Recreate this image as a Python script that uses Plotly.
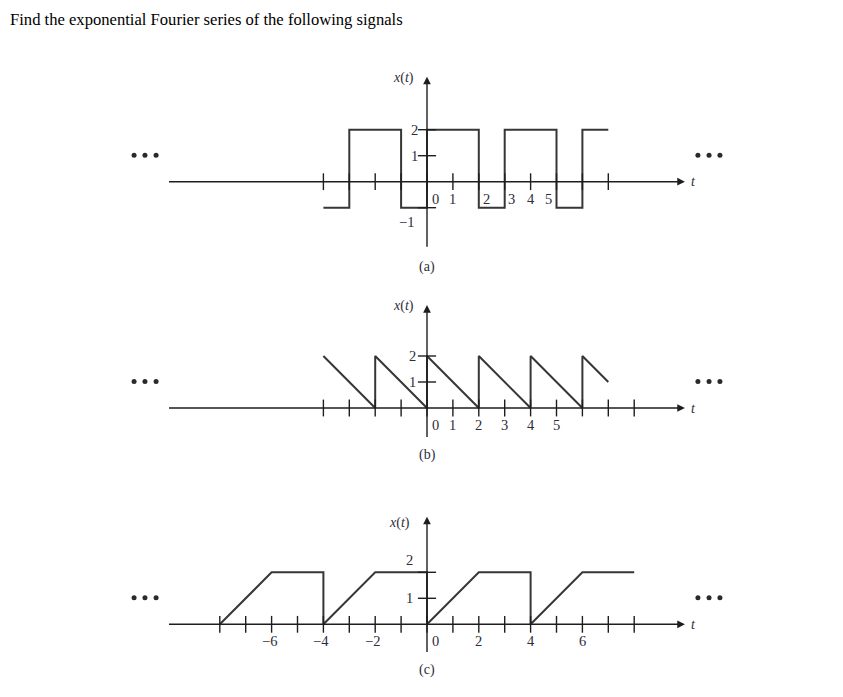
import plotly.graph_objects as go

# ---------------- data ----------------
title_text = "Find the exponential Fourier series of the following signals"

# (a) rectangular wave
t_a = [-4, -3, -3, -1, -1, 0, 0, 2, 2, 3, 3, 5, 5, 6, 6, 7]
x_a = [-1, -1, 2, 2, -1, -1, 2, 2, -1, -1, 2, 2, -1, -1, 2, 2]
xticks_a = [-4, -3, -2, -1, 0, 1, 2, 3, 4, 5, 6, 7]
yticks_a = [-1, 1, 2]
xlab_a = ["0", "1", "2", "3", "4", "5"]
xlab_pos_a = [0.34, 1.0, 2.3, 3.27, 4.0, 4.71]
ylab_a = ["2", "1", "\u22121"]
ylab_pos_a = [2, 1, -1.54]

# (b) sawtooth
t_b = [-4, -2, -2, 0, 0, 2, 2, 4, 4, 6, 6, 7]
x_b = [2, 0, 2, 0, 2, 0, 2, 0, 2, 0, 2, 1]
xticks_b = [-4, -3, -2, -1, 0, 1, 2, 3, 4, 5, 6, 7, 8]
yticks_b = [1, 2]
xlab_b = ["0", "1", "2", "3", "4", "5"]
xlab_pos_b = [0.34, 1.0, 2.0, 3.0, 4.0, 5.0]
ylab_b = ["2", "1"]
ylab_pos_b = [2, 1]

# (c) trapezoidal wave
t_c = [-8, -6, -4, -4, -2, 0, 0, 2, 4, 4, 6, 8]
x_c = [0, 2, 2, 0, 2, 2, 0, 2, 2, 0, 2, 2]
xticks_c = list(range(-8, 9))
yticks_c = [1, 2]
xlab_c = ["\u22126", "\u22124", "\u22122", "0", "2", "4", "6"]
xlab_pos_c = [-6.1, -4.1, -2.1, 0.34, 2.0, 4.0, 6.0]
ylab_c = ["2", "1"]
ylab_pos_c = [2.47, 1]

panel_names = ["(a)", "(b)", "(c)"]

# ---------------- layout geometry ----------------
OFF = 8                     # page body margin of the html
W, H = 843 - OFF, 697 - OFF
PX_X = 25.9                 # pixels per unit horizontally
X0 = 427.0 - OFF            # pixel of t = 0
PX_Y = 26.0
Y0 = [181.7 - OFF, 408.0 - OFF, 624.3 - OFF]   # pixel row of x(t)=0 per panel
axis_top = [4.04, 3.96, 4.14]
axis_bot = [-2.56, -1.17, -1.12]
xlabel_y = -0.65
ylabel_x = [-0.47, -0.57, -0.66]
xt_label_y = [3.99, 3.92, 3.9]
xt_label_x = [-0.9, -0.9, -1.05]
name_y = [-3.27, -1.81, -1.76]

SIG = "#363636"
AX = "#1e1e1e"
TXT = "#2d2d3a"
SERIF = "Liberation Serif, Times New Roman, serif"

fig = go.Figure()
yrefs = ["y", "y2", "y3"]

panels = [
    (t_a, x_a, xticks_a, yticks_a, xlab_a, xlab_pos_a, ylab_a, ylab_pos_a),
    (t_b, x_b, xticks_b, yticks_b, xlab_b, xlab_pos_b, ylab_b, ylab_pos_b),
    (t_c, x_c, xticks_c, yticks_c, xlab_c, xlab_pos_c, ylab_c, ylab_pos_c),
]

annotations = []
for i, (tt, xx, xt, yt, xl, xlp, yl, ylp) in enumerate(panels):
    yr = yrefs[i]
    # signal
    fig.add_trace(go.Scatter(x=tt, y=xx, mode="lines", yaxis=yr,
                             line=dict(color=SIG, width=2), hoverinfo="skip"))
    # x ticks
    fig.add_trace(go.Scatter(x=xt, y=[0] * len(xt), mode="markers", yaxis=yr,
                             marker=dict(symbol="line-ns", size=12,
                                         line=dict(color=AX, width=1.4)),
                             hoverinfo="skip"))
    # y ticks
    fig.add_trace(go.Scatter(x=[0] * len(yt), y=yt, mode="markers", yaxis=yr,
                             marker=dict(symbol="line-ew", size=13,
                                         line=dict(color=AX, width=1.4)),
                             hoverinfo="skip"))
    # ellipsis dots
    fig.add_trace(go.Scatter(x=[-11.31, -10.89, -10.46, 10.46, 10.89, 11.31],
                             y=[1.02] * 6, mode="markers", yaxis=yr,
                             marker=dict(size=5, color="#2a2a2a"),
                             hoverinfo="skip"))
    # horizontal axis with arrow
    annotations.append(dict(x=9.96, y=0, ax=-10.02, ay=0, xref="x", yref=yr,
                            axref="x", ayref=yr, showarrow=True, arrowhead=2,
                            arrowsize=1.1, arrowwidth=1.4, arrowcolor=AX, text=""))
    # vertical axis with arrow
    annotations.append(dict(x=0, y=axis_top[i], ax=0, ay=axis_bot[i], xref="x",
                            yref=yr, axref="x", ayref=yr, showarrow=True,
                            arrowhead=2, arrowsize=1.1, arrowwidth=1.4,
                            arrowcolor=AX, text=""))
    # t label
    annotations.append(dict(x=10.3, y=0, xref="x", yref=yr, text="<i>t</i>",
                            showarrow=False, font=dict(family=SERIF, size=14, color=TXT)))
    # x(t) label
    annotations.append(dict(x=xt_label_x[i], y=xt_label_y[i], xref="x", yref=yr,
                            text="<i>x</i>(<i>t</i>)", showarrow=False,
                            font=dict(family=SERIF, size=14, color=TXT)))
    # panel name
    annotations.append(dict(x=0, y=name_y[i], xref="x", yref=yr, text=panel_names[i],
                            showarrow=False, font=dict(family=SERIF, size=14, color=TXT)))
    # x tick labels
    for s, p in zip(xl, xlp):
        annotations.append(dict(x=p, y=xlabel_y, xref="x", yref=yr, text=s,
                                showarrow=False,
                                font=dict(family=SERIF, size=14.5, color=TXT)))
    # y tick labels
    for s, p in zip(yl, ylp):
        annotations.append(dict(x=ylabel_x[i] if s != "\u22121" else -0.8, y=p,
                                xref="x", yref=yr, text=s, showarrow=False,
                                font=dict(family=SERIF, size=14.5, color=TXT)))

# title
annotations.append(dict(xref="x", yref="y", x=(10 - OFF - 2 - X0) / PX_X,
                        y=(Y0[0] - (19 - OFF)) / PX_Y, xanchor="left", yanchor="middle",
                        text=title_text, showarrow=False,
                        font=dict(family=SERIF, size=16.6, color="#000000")))

hidden = dict(visible=False, showgrid=False, zeroline=False, fixedrange=True)
layout = dict(
    width=W, height=H, autosize=False,
    margin=dict(l=0, r=0, t=0, b=0),
    paper_bgcolor="white", plot_bgcolor="white",
    showlegend=False,
    xaxis=dict(range=[-X0 / PX_X, (W - X0) / PX_X], domain=[0, 1], **hidden),
    annotations=annotations,
)
for i, key in enumerate(["yaxis", "yaxis2", "yaxis3"]):
    ax = dict(range=[(Y0[i] - H) / PX_Y, Y0[i] / PX_Y], domain=[0, 1], anchor="x", **hidden)
    if i > 0:
        ax["overlaying"] = "y"
    layout[key] = ax
fig.update_layout(**layout)

fig.write_html("out.html")
